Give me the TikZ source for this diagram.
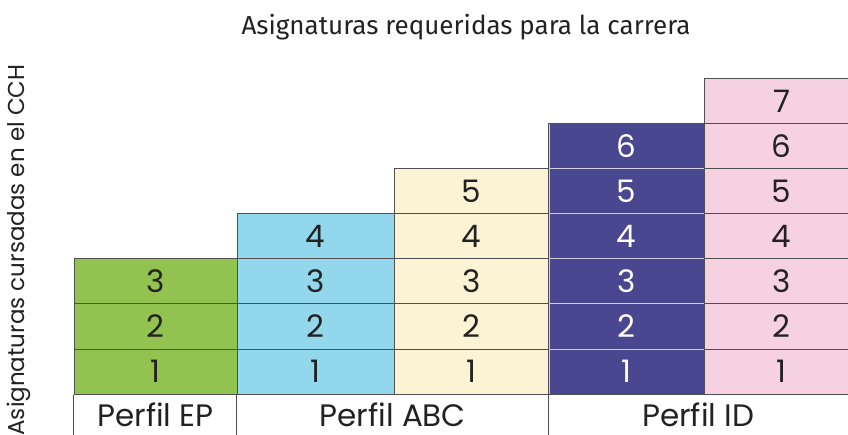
\documentclass[tikz,border=0pt]{standalone}
\usepackage{fontspec}
\setmainfont{Poppins}
\newfontfamily\headfont{Fira Sans}
\usetikzlibrary{positioning}
\definecolor{cchGreen}{HTML}{92C24F}
\definecolor{cchCyan}{HTML}{93D7EC}
\definecolor{cchCream}{HTML}{FCF2D4}
\definecolor{cchViolet}{HTML}{4A4791}
\definecolor{cchPink}{HTML}{F6D1E2}
\definecolor{cchInk}{HTML}{222222}
\definecolor{cchRule}{HTML}{4F4F4F}

\begin{document}
\begin{tikzpicture}[x=1pt, y=-1pt, font=\fontsize{31}{34}\selectfont,
  cell/.style={draw=cchRule, line width=1pt, minimum height=45pt, inner sep=0pt, text=cchInk},
  ep/.style={cell, fill=cchGreen, minimum width=163pt},
  abc/.style={cell, fill=cchCyan, minimum width=157pt},
  abcb/.style={cell, fill=cchCream, minimum width=155pt},
  idv/.style={cell, fill=cchViolet, draw=white!75!cchViolet, text=white, minimum width=155pt},
  idp/.style={cell, fill=cchPink, minimum width=155pt},
  perfil/.style={minimum height=40pt, inner sep=0pt, text=cchInk},
  rule/.style={cchRule, line width=1pt}]
  \path[use as bounding box] (0,0) rectangle (848,435);
  \clip (0,0) rectangle (848,435);
  % headings
  \node[text=cchInk, font=\headfont\fontsize{26}{30}\selectfont] (titulo) at (466,27) {Asignaturas requeridas para la carrera};
  \node[text=cchInk, rotate=90, font=\fontsize{23}{26}\selectfont] (eje) at (19,250) {Asignaturas cursadas en el CCH};
  % columns of subjects
  \foreach \r in {1,...,3}
    \node[ep] (ep\r) at (155.5,{371.5-45*(\r-1)}) {\r};
  \foreach \r in {1,...,4}
    \node[abc] (abc\r) at (315.5,{371.5-45*(\r-1)}) {\r};
  \foreach \r in {1,...,5}
    \node[abcb] (abcb\r) at (471.5,{371.5-45*(\r-1)}) {\r};
  \foreach \r in {1,...,6}
    \node[idv] (idv\r) at (626.5,{371.5-45*(\r-1)}) {\r};
  \draw[rule] (idv1.south west) rectangle (idv6.north east);
  \foreach \r in {1,...,7}
    \node[idp] (idp\r) at (781.5,{371.5-45*(\r-1)}) {\r};
  % profiles
  \node[perfil, minimum width=163pt, below=0pt of ep1] (pep) {Perfil EP};
  \node[perfil, minimum width=312pt, anchor=north west] (pabc) at (abc1.south west) {Perfil ABC};
  \node[perfil, minimum width=299pt, anchor=north west] (pid) at (idv1.south west) {Perfil ID};
  \draw[rule] (pep.north west) -- (pep.south west);
  \draw[rule] (pabc.north west) -- (pabc.south west);
  \draw[rule] (pid.north west) -- (pid.south west);
\end{tikzpicture}
\end{document}
